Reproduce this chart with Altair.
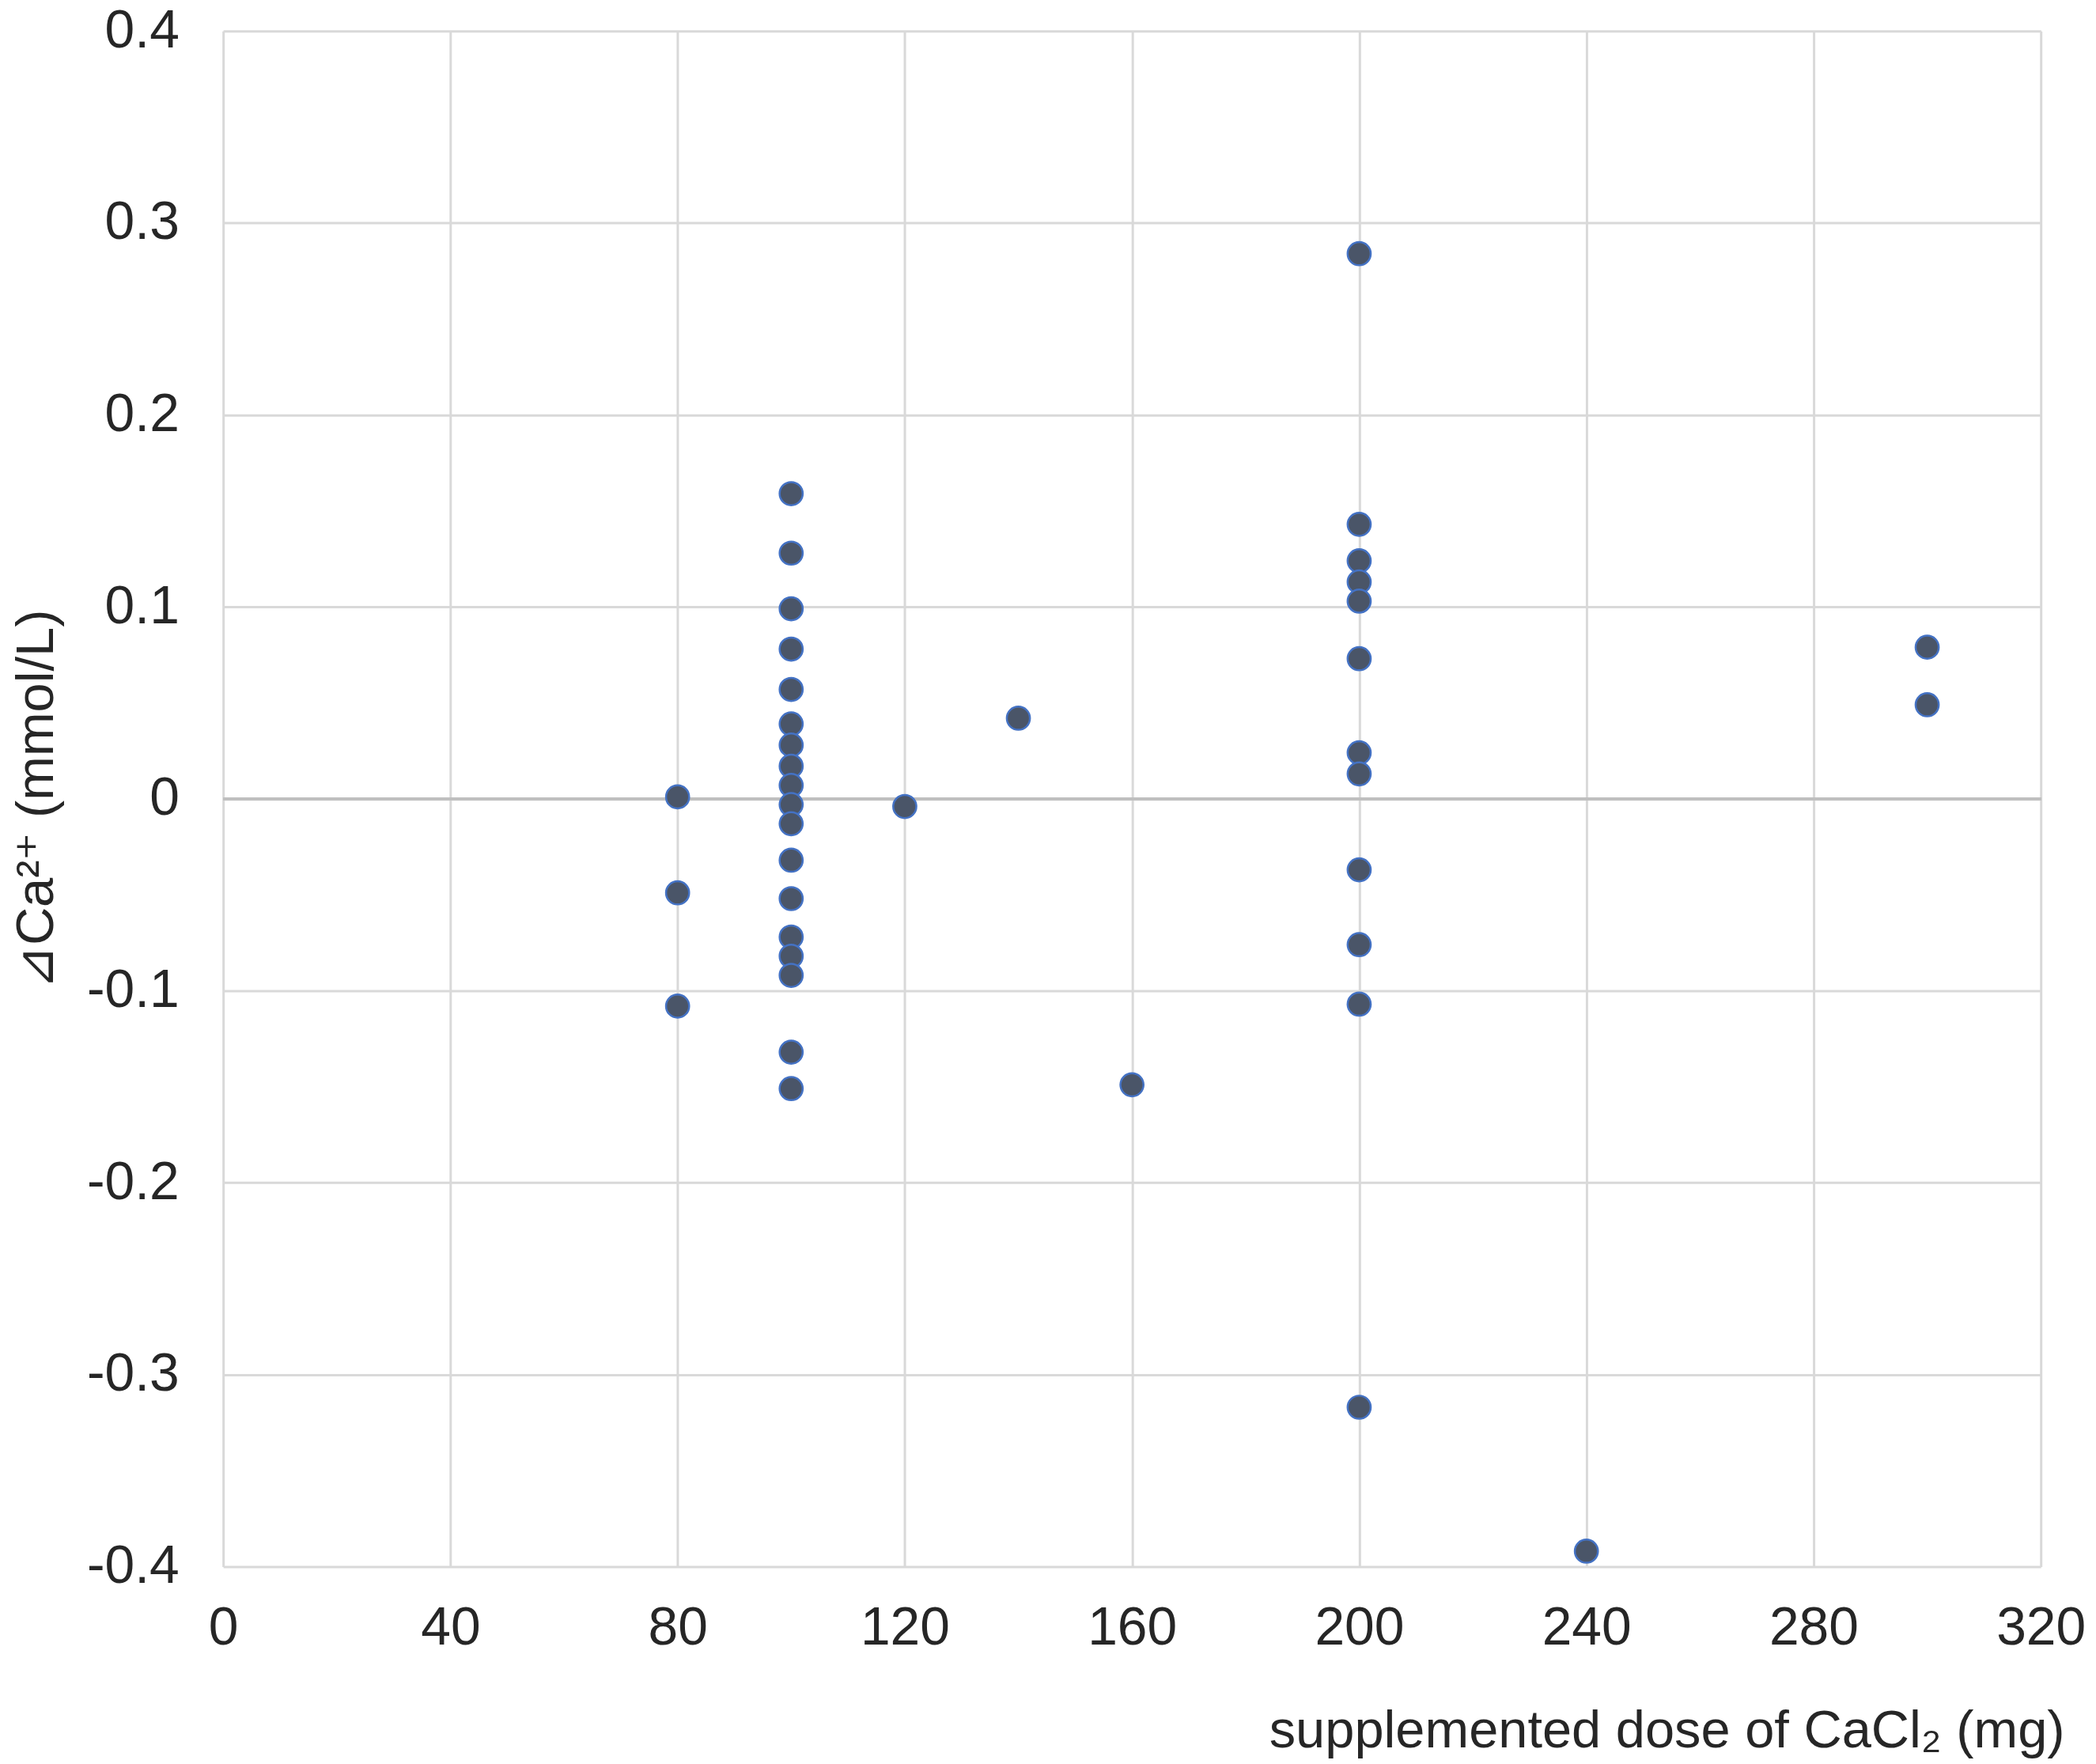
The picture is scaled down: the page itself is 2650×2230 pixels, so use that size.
import altair as alt
import pandas as pd

# Data
dose = [80, 80, 80,
        100, 100, 100, 100, 100, 100, 100, 100, 100,
        100, 100, 100, 100, 100, 100, 100, 100, 100,
        120, 140, 160,
        200, 200, 200, 200, 200, 200, 200, 200, 200, 200, 200, 200,
        240, 300, 300]
delta = [0.001, -0.049, -0.108,
         0.159, 0.128, 0.099, 0.078, 0.057, 0.039, 0.028, 0.017, 0.007,
         -0.003, -0.013, -0.032, -0.052, -0.072, -0.082, -0.092, -0.132, -0.151,
         -0.004, 0.042, -0.149,
         0.284, 0.143, 0.124, 0.113, 0.103, 0.073, 0.024, 0.013, -0.037, -0.076, -0.107, -0.317,
         -0.392, 0.079, 0.049]

x_ticks = [0, 40, 80, 120, 160, 200, 240, 280, 320]
y_ticks = [-0.4, -0.3, -0.2, -0.1, 0, 0.1, 0.2, 0.3, 0.4]

x_title = "supplemented dose of CaCl\u2082 (mg)"
y_title = "\u22bfCa\u00b2\u207a (mmol/L)"

df = pd.DataFrame({"dose": dose, "delta": delta})

FONT = "Liberation Sans, Arial, sans-serif"
TXT = "#262626"
GRID = "#d9d9d9"

x_axis = alt.Axis(
    values=x_ticks, grid=True, gridColor=GRID, gridWidth=3,
    domain=False, ticks=False, tickSize=0,
    labelFontSize=68, labelPadding=44, labelFont=FONT, labelColor=TXT,
    labelOverlap=False, labelFlush=False, labelBound=False,
    titleFontSize=67, titleFont=FONT, titleColor=TXT, titleFontWeight="normal",
    titleX=2335, titleY=229, titleAlign="right", titleBaseline="alphabetic",
)
y_axis = alt.Axis(
    values=y_ticks, grid=True, gridColor=GRID, gridWidth=3,
    domain=False, ticks=False, tickSize=0,
    labelFontSize=68, labelPadding=56, labelFont=FONT, labelColor=TXT,
    labelOverlap=False, labelFlush=False, labelBound=False,
    labelExpr="'' + datum.value",
    titleFontSize=67, titleFont=FONT, titleColor=TXT, titleFontWeight="normal",
    titleX=-216, titleY=974, titleAlign="center", titleBaseline="alphabetic",
    titleAngle=270,
)

points = alt.Chart(df).mark_circle(
    size=860, color="#4a5568", stroke="#4472c4", strokeWidth=2.5, opacity=1
).encode(
    x=alt.X("dose:Q", scale=alt.Scale(domain=[0, 320], nice=False, zero=False),
            axis=x_axis, title=x_title),
    y=alt.Y("delta:Q", scale=alt.Scale(domain=[-0.4, 0.4], nice=False),
            axis=y_axis, title=y_title),
)

zero_line = alt.Chart(df).mark_rule(color="#bfbfbf", strokeWidth=3).encode(
    y=alt.datum(0)
)

chart = alt.layer(zero_line, points).properties(
    width=2305,
    height=1947,
    autosize=alt.AutoSizeParams(type="none"),
    padding={"left": 275, "top": 28, "right": 62, "bottom": 247},
).configure_view(stroke=None).configure(background="white")

chart.save("out.html", embed_options={"renderer": "svg", "actions": False})
